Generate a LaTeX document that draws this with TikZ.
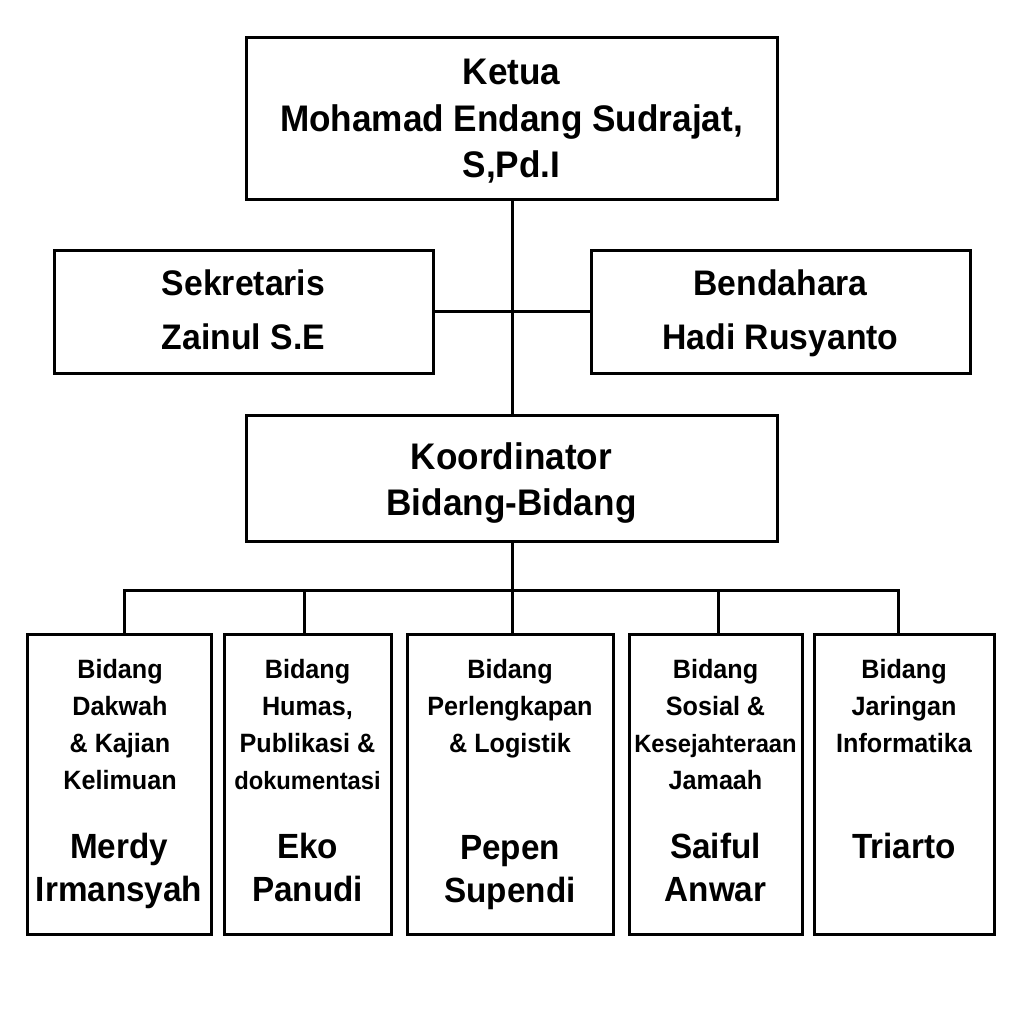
\documentclass[tikz,border=0pt]{standalone}
\usepackage{fontspec}
\setmainfont{Liberation Sans}[FakeStretch=0.95]
\usetikzlibrary{calc}
\begin{document}
\begin{tikzpicture}[x=1pt,y=-1pt,
  box/.style={draw, line width=3pt, rectangle, inner sep=0pt},
  conn/.style={draw, line width=3pt},
  txt/.style={anchor=north, inner sep=0pt, align=center},
  topfont/.style={txt, font=\fontsize{37}{46.5}\selectfont\bfseries},
  midfont/.style={txt, font=\fontsize{35.5}{54}\selectfont\bfseries},
  koordfont/.style={txt, font=\fontsize{37}{46}\selectfont\bfseries},
  roletext/.style={txt, font=\fontsize{26.5}{37}\selectfont\bfseries},
  persontext/.style={txt, font=\fontsize{35}{43}\selectfont\bfseries},
  bidbox/.style={box, minimum height=300pt}
]
\useasboundingbox (0,0) rectangle (1024,1024);
\fill[white] (0,0) rectangle (1024,1024);

% top boxes
\node[box, minimum width=531pt, minimum height=162pt] (ketua) at (512,119) {};
\node[box, minimum width=379pt, minimum height=123pt] (sek) at (243.5,311.5) {};
\node[box, minimum width=379pt, minimum height=123pt] (bend) at (780.5,311.5) {};
\node[box, minimum width=531pt, minimum height=126pt] (koord) at (512,478) {};

\node[topfont] (tketua) at (511.5,59) {Ketua\\Mohamad Endang Sudrajat,\\S,Pd.I};
\node[midfont] (tsek) at (243.5,270) {Sekretaris\\Zainul S.E};
\node[midfont] (tbend) at (780.5,270) {Bendahara\\Hadi Rusyanto};
\node[koordfont] (tkoord) at (511.5,442) {Koordinator\\Bidang-Bidang};

% bottom boxes
\node[bidbox, minimum width=184pt] (b1) at (119,784.5) {};
\node[bidbox, minimum width=167pt] (b2) at (307.5,784.5) {};
\node[bidbox, minimum width=206pt] (b3) at (510,784.5) {};
\node[bidbox, minimum width=173pt] (b4) at (715.5,784.5) {};
\node[bidbox, minimum width=180pt] (b5) at (904,784.5) {};

% role texts
\node[roletext] (r1) at (120,659.5) {Bidang\\Dakwah\\\& Kajian\\Kelimuan};
\node[roletext] (r2) at (307.5,659.5) {Bidang\\Humas,\\Publikasi \&\\{\fontsize{25}{37}\selectfont dokumentasi}};
\node[roletext] (r3) at (510,659.5) {Bidang\\Perlengkapan\\\& Logistik};
\node[roletext] (r4) at (715.5,659.5) {Bidang\\Sosial \&\\{\fontsize{25}{37}\selectfont Kesejahteraan}\\Jamaah};
\node[roletext] (r5) at (904,659.5) {Bidang\\Jaringan\\Informatika};

% person names
\node[persontext] (p1) at (119,833) {Merdy\\Irmansyah};
\node[persontext] (p2) at (307.5,833) {Eko\\Panudi};
\node[persontext] (p3) at (510,835) {Pepen\\Supendi};
\node[persontext] (p4) at (715.5,833) {Saiful\\Anwar};
\node[persontext] (p5) at (904,833) {Triarto};

% connectors
\coordinate (bus) at (512,590);
\draw[conn] (ketua.south) -- (koord.north);
\draw[conn] (sek.east) -- (bend.west);
\draw[conn] (koord.south) -- (bus);
\draw[conn] ([xshift=5pt]b1.north) |- (bus);
\draw[conn] ([xshift=-3.5pt]b2.north) |- (bus);
\draw[conn] ([xshift=2pt]b3.north) -- (bus);
\draw[conn] ([xshift=2.5pt]b4.north) |- (bus);
\draw[conn] ([xshift=-6pt]b5.north) |- (bus);
\end{tikzpicture}
\end{document}
